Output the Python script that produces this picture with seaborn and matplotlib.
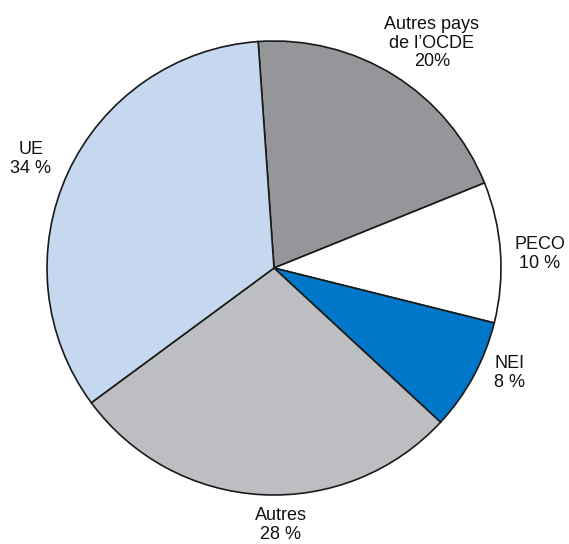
import matplotlib
matplotlib.use("Agg")
import matplotlib.pyplot as plt
import seaborn as sns

categories = ["Autres pays\nde l\u2019OCDE", "PECO", "NEI", "Autres", "UE"]
values = [20, 10, 8, 28, 34]
value_labels = ["20%", "10 %", "8 %", "28 %", "34 %"]
colors = ["#959699", "#ffffff", "#0077c8", "#bdbec1", "#c6d8ef"]

sns.set_theme(style="white")
plt.rcParams['font.family'] = ['Liberation Sans', 'DejaVu Sans']

W, H = 569, 544
fig = plt.figure(figsize=(W / 100, H / 100), dpi=100)
ax = fig.add_axes([0, 0, 1, 1])

cx, cy, r = 274, H - 268, 227
ax.pie(values, colors=colors, startangle=94, counterclock=False,
       radius=r, center=(cx, cy),
       wedgeprops=dict(edgecolor="#1a1a1a", linewidth=1.2))
ax.set_xlim(0, W)
ax.set_ylim(0, H)
ax.set_aspect('auto')
ax.axis('off')

label_pos = [(432, 43), (540, 254), (510, 373), (281, 525), (31, 159)]
for cat, vl, (x, y) in zip(categories, value_labels, label_pos):
    ax.text(x, H - y, f"{cat}\n{vl}", ha="center", va="center",
            fontsize=13, color="#111111", linespacing=1.15)

fig.savefig("out.png", dpi=100, facecolor="white")
